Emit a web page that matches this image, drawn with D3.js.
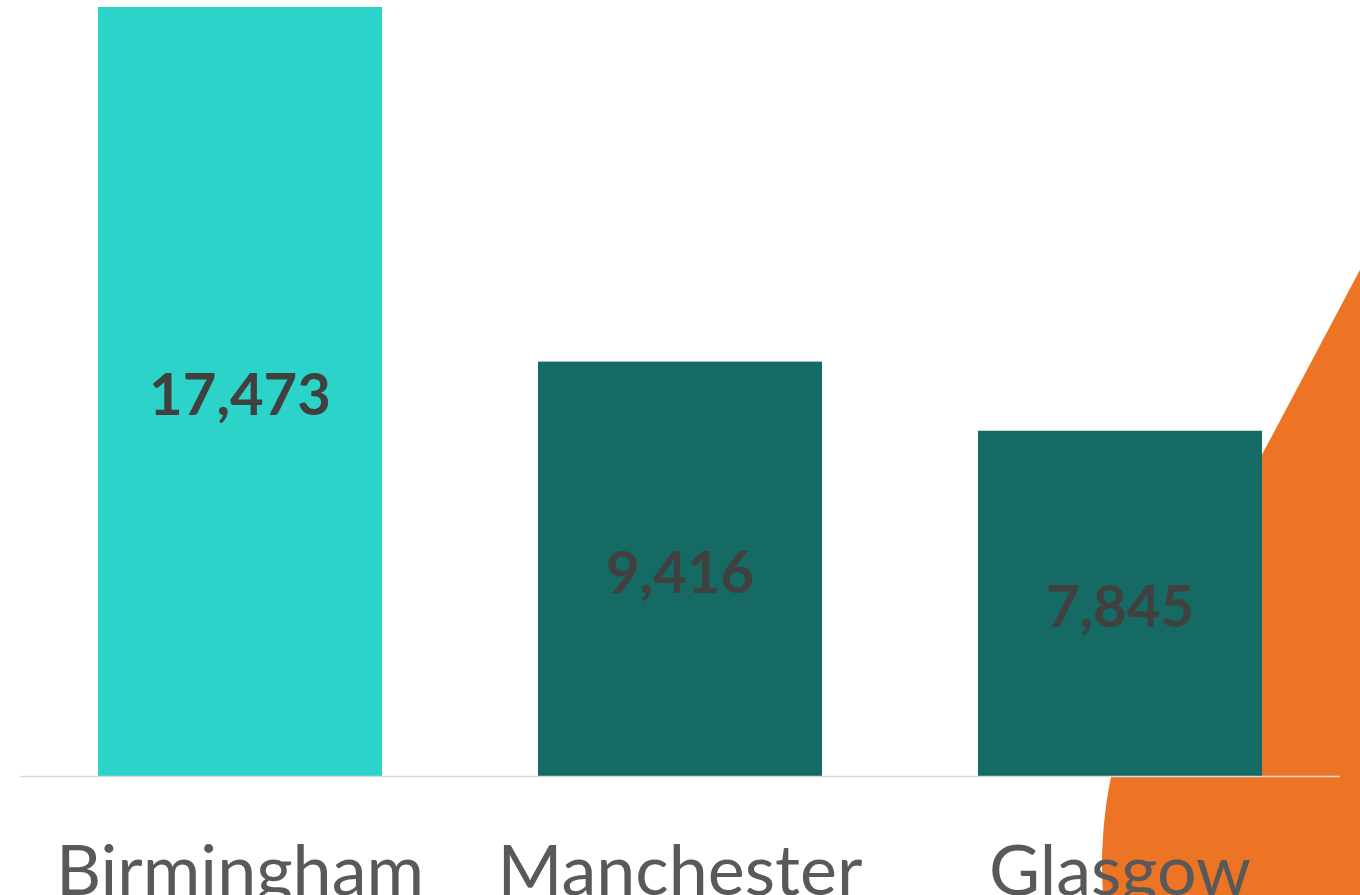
<!DOCTYPE html>
<html><head><meta charset="utf-8">
<script src="https://cdn.jsdelivr.net/npm/d3@7"></script>
<style>html,body{margin:0;padding:0;background:#fff;overflow:hidden}</style>
</head><body>
<svg id="c" width="1360" height="895"></svg>
<script>
const categories = ["Birmingham", "Manchester", "Glasgow"];
const values = [17473, 9416, 7845];
const barColors = ["#2cd3c9", "#156a64", "#156a64"];

const svg = d3.select("#c");
const x = d3.scaleBand().domain(categories).range([20, 1340]).paddingInner(0.3545).paddingOuter(0.1773);
const y = d3.scaleLinear().domain([0, 17473]).range([776, 7]);

// decorative orange teardrop
const cx = 1536, cy = 865, r = 434;
const nx = 0.884, ny = 0.468;
const tx = cx - r * nx, ty = cy - r * ny;
const tipX = tx + ny * 900, tipY = ty - nx * 900;
svg.append("path")
  .attr("d", `M${tipX},${tipY} L${tx},${ty} A${r},${r} 0 1 0 ${cx + r},${cy} Z`)
  .attr("fill", "#ec7424");

svg.selectAll("rect.bar").data(values).enter().append("rect")
  .attr("x", (d, i) => x(categories[i]))
  .attr("y", d => y(d))
  .attr("width", x.bandwidth())
  .attr("height", d => y(0) - y(d))
  .attr("fill", (d, i) => barColors[i]);

svg.append("line").attr("x1", 20).attr("x2", 1340).attr("y1", 776.5).attr("y2", 776.5)
  .attr("stroke", "#d9d9d9").attr("stroke-width", 1.5);

svg.selectAll("text.val").data(values).enter().append("text")
  .attr("x", (d, i) => x(categories[i]) + x.bandwidth() / 2)
  .attr("y", d => (y(d) + y(0)) / 2)
  .attr("dy", "0.41em")
  .attr("text-anchor", "middle")
  .attr("font-family", "Lato, 'Open Sans', sans-serif")
  .attr("font-weight", "bold")
  .attr("font-size", 58)
  .attr("fill", "#404040")
  .text(d => d3.format(",")(d));

const xAxis = d3.axisBottom(x).tickSize(0).tickPadding(0);
const ax = svg.append("g").attr("transform", "translate(0,895)").call(xAxis);
ax.select(".domain").remove();
ax.selectAll("text")
  .attr("dy", 0).attr("y", 0)
  .attr("font-family", "Lato, 'Open Sans', sans-serif")
  .attr("font-size", 70)
  .attr("fill", "#595959");
</script>
</body></html>
